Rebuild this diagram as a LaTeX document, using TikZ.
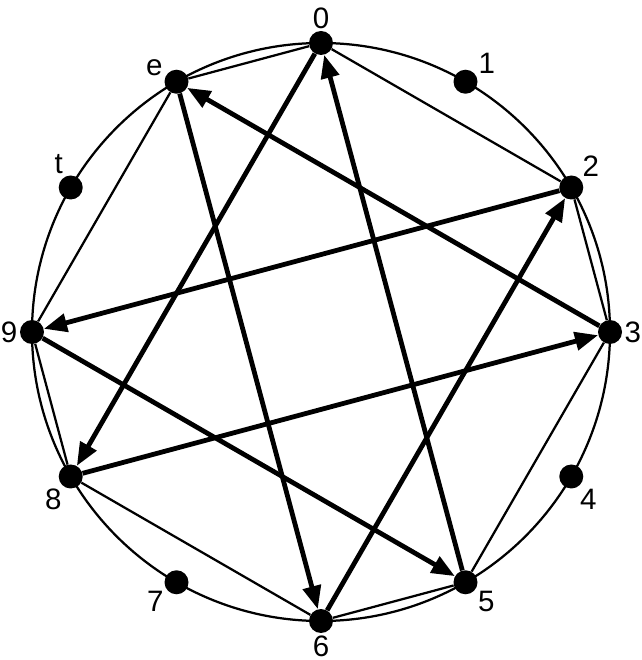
\documentclass[tikz,border=0pt]{standalone}
\usepackage{fontspec}
\setmainfont{Liberation Sans}
\usetikzlibrary{arrows.meta}

\tikzset{
  pc/.style={circle, fill, inner sep=0pt, minimum size=0.6cm,
    label distance=-2pt},
  rim/.style={line width=1.6pt},
  link/.style={line width=1.6pt},
  move/.style={line width=3.4pt, -{Triangle[length=0.58cm, width=0.45cm]}}
}

\begin{document}
\begin{tikzpicture}[font=\fontsize{21}{25}\selectfont]
\useasboundingbox (0,0) rectangle (16.05,16.5);
\def\rad{7.225}
\coordinate (c) at (8.025,8.2);

\draw[rim] (c) circle (\rad);

% the twelve pitch classes, clockwise from the top
\foreach \i/\t/\a in {0/0/90, 1/1/30, 2/2/44, 3/3/0, 4/4/-58, 5/5/-34,
                      6/6/-90, 7/7/210, 8/8/236, 9/9/180, 10/t/117, 11/e/162}
  \node[pc, label={[inner sep=1.5pt]\a:\t}] (p\i) at ([shift={(90-30*\i:\rad)}]c) {};

% the octatonic polygon
\foreach \x/\y in {0/2, 2/3, 3/5, 5/6, 6/8, 8/9, 9/11, 11/0}
  \draw[link] (p\x) -- (p\y);

% alternating steps of 8 and 7
\foreach \x/\y in {0/8, 8/3, 3/11, 11/6, 6/2, 2/9, 9/5, 5/0}
  \draw[move] (p\x) -- (p\y);
\end{tikzpicture}
\end{document}
